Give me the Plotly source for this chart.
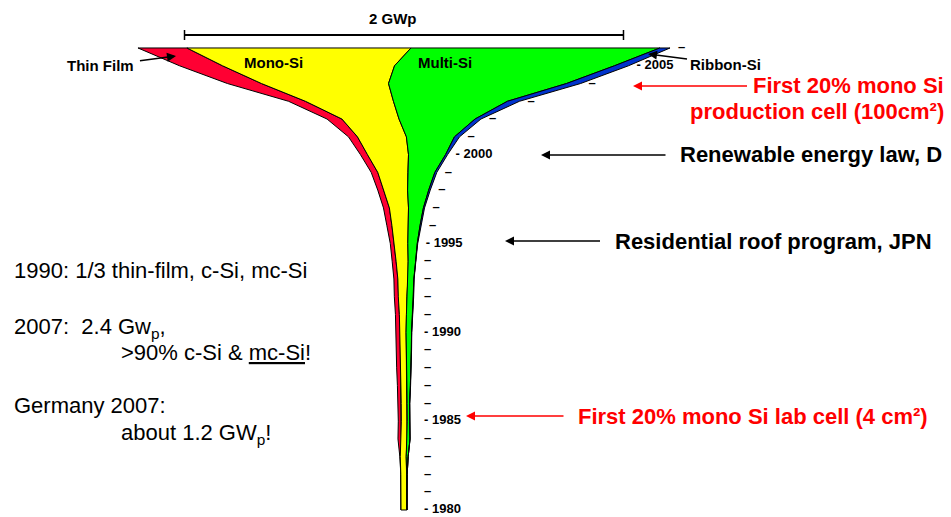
import plotly.graph_objects as go

# ---------------- data (MWp per year) ----------------
years = list(range(1980, 2007))
thin_film = [0, 0, 0, 2, 14, 14, 14, 16, 18, 18, 18, 18, 18, 18, 18, 18, 23, 27, 27, 30, 32, 41, 68, 77, 155, 196, 223]
mono_si = [27, 27, 27, 27, 27, 27, 27, 27, 27, 27, 27, 32, 39, 46, 55, 62, 73, 87, 109, 137, 187, 223, 260, 401, 579, 784, 1021]
multi_si = [0, 0, 2, 9, 14, 11, 11, 16, 21, 23, 25, 27, 30, 27, 34, 43, 55, 68, 96, 123, 169, 219, 346, 519, 811, 1002, 1134]
ribbon_si = [0, 0, 0, 0, 0, 0, 1, 1, 1, 1, 1, 1, 1, 1, 1, 2, 5, 5, 7, 9, 9, 23, 27, 55, 64, 64, 46]
tech_names = ["Thin Film", "Mono-Si", "Multi-Si", "Ribbon-Si"]
tick_labels = ["- 1980", "–", "–", "–", "–", "- 1985", "–", "–", "–", "–",
               "- 1990", "–", "–", "–", "–", "- 1995", "–", "–", "–", "–",
               "- 2000", "–", "–", "–", "–", "- 2005", "–"]
scale_bar_gw = 2

# ---------------- styling / layout constants ----------------
W, H = 951, 517
colors = ["#FF0033", "#FFFF00", "#00FF00", "#0033CC"]
RED = "#FF0000"
MW_PER_PX = 4.556
CX = 404.0            # pixel column of funnel centre
Y0_PX, PX_PER_YEAR = 510.0, 17.77
FONT = "Liberation Sans, Arial, sans-serif"

x_range = [(0 - CX) * MW_PER_PX, (W - CX) * MW_PER_PX]
y_range = [years[0] + (Y0_PX - H) / PX_PER_YEAR, years[0] + Y0_PX / PX_PER_YEAR]


def px(x):
    return x / W


def py(y):
    return 1 - y / H


fig = go.Figure()

series = [thin_film, mono_si, multi_si, ribbon_si]
n = len(years)
totals = [sum(s[i] for s in series) for i in range(n)]
for k, s in enumerate(series):
    lo = [-totals[i] / 2 + sum(series[j][i] for j in range(k)) for i in range(n)]
    hi = [lo[i] + s[i] for i in range(n)]
    fig.add_trace(go.Scatter(
        x=lo + hi[::-1] + [lo[0]],
        y=years + years[::-1] + [years[0]],
        mode="lines", fill="toself", fillcolor=colors[k],
        line=dict(color="black", width=1),
        name=tech_names[k], hoverinfo="skip", showlegend=False,
    ))

# year tick marks that follow the right edge of the funnel
tick_x = [max(t / 2 + 8 * MW_PER_PX, 20 * MW_PER_PX) for t in totals]
fig.add_trace(go.Scatter(
    x=tick_x, y=years, mode="text", text=["<b>" + t + "</b>" for t in tick_labels],
    textposition="middle right",
    textfont=dict(family=FONT, size=13, color="black"),
    hoverinfo="skip", showlegend=False,
))

# scale bar (2 GWp)
half = scale_bar_gw * 1000 / 2
shapes = [
    dict(type="line", xref="x", yref="paper", x0=-half, x1=half, y0=py(35), y1=py(35),
         line=dict(color="black", width=2)),
    dict(type="line", xref="x", yref="paper", x0=-half, x1=-half, y0=py(30), y1=py(40),
         line=dict(color="black", width=1.5)),
    dict(type="line", xref="x", yref="paper", x0=half, x1=half, y0=py(30), y1=py(40),
         line=dict(color="black", width=1.5)),
]

ann = []


def text(t, x, y, size, color="black", bold=False, xanchor="center"):
    if bold:
        t = "<b>" + t + "</b>"
    ann.append(dict(text=t, x=px(x), y=py(y), xref="paper", yref="paper",
                    xanchor=xanchor, yanchor="middle", showarrow=False,
                    font=dict(family=FONT, size=size, color=color)))


def arrow_text(t, center, head, size, color="black", bold=False, standoff=0, width=1.5):
    """Text centred at `center` (px) with an arrow pointing to `head` (px)."""
    if bold:
        t = "<b>" + t + "</b>"
    ann.append(dict(text=t, x=px(head[0]), y=py(head[1]), xref="paper", yref="paper",
                    ax=center[0] - head[0], ay=center[1] - head[1], showarrow=True,
                    arrowhead=2, arrowsize=1.2, arrowwidth=width, arrowcolor=color,
                    startstandoff=standoff, borderpad=0,
                    font=dict(family=FONT, size=size, color=color)))


text("<b>%d GWp</b>" % scale_bar_gw, 393, 18, 15)
text("<b>" + tech_names[1] + "</b>", 273, 63, 15)
text("<b>" + tech_names[2] + "</b>", 445, 63, 15)
arrow_text(tech_names[0], (100, 66), (176, 56), 15, bold=True, standoff=6)
arrow_text(tech_names[3], (725, 64), (648, 54), 15, bold=True, standoff=2)

arrow_text("First 20% mono Si", (848, 86), (633, 86), 22, RED, True, standoff=5)
text("production cell (100cm²)", 946, 112, 22, RED, True, "right")
arrow_text("Renewable energy law, D", (811, 155), (541, 155), 22, "black", True, standoff=14)
arrow_text("Residential roof program, JPN", (773, 241), (505, 241), 22, "black", True, standoff=14)
arrow_text("First 20% mono Si lab cell (4 cm²)", (753, 416), (466, 416), 22, RED, True, standoff=14)

text("1990: 1/3 thin-film, c-Si, mc-Si", 12, 270, 22, xanchor="left")
text("2007:\u00a0\u00a02.4 Gw<sub>p</sub>,", 12, 328, 22, xanchor="left")
text("&gt;90% c-Si &amp; <u>mc-Si</u>!", 119, 352, 22, xanchor="left")
text("Germany 2007:", 12, 405, 22, xanchor="left")
text("about 1.2 GW<sub>p</sub>!", 119, 434, 22, xanchor="left")

fig.update_layout(
    width=W, height=H,
    margin=dict(l=0, r=0, t=0, b=0),
    paper_bgcolor="white", plot_bgcolor="white",
    xaxis=dict(visible=False, range=x_range, fixedrange=True),
    yaxis=dict(visible=False, range=y_range, fixedrange=True),
    shapes=shapes, annotations=ann, showlegend=False,
)

fig.write_html("out.html", config={"displayModeBar": False},
               post_script="document.body.style.margin='0px';document.body.style.padding='0px';")
